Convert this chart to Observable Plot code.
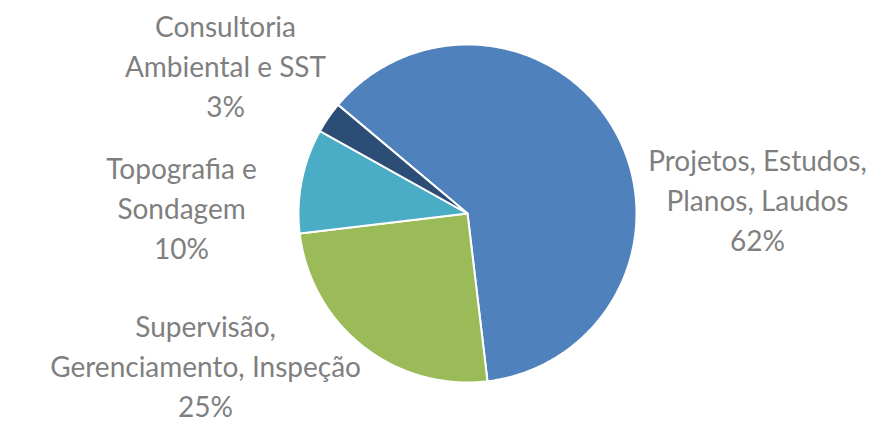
<!DOCTYPE html>
<html>
<head>
<meta charset="utf-8">
<script src="https://cdn.jsdelivr.net/npm/d3@7"></script>
<script src="https://cdn.jsdelivr.net/npm/@observablehq/plot@0.6"></script>
<style>
  html, body { margin: 0; padding: 0; background: #fff; }
  #chart { width: 880px; height: 422px; }
</style>
</head>
<body>
<div id="chart"></div>
<script>
// ---- data ----
const categories = [
  "Projetos, Estudos,\nPlanos, Laudos",
  "Supervisão,\nGerenciamento, Inspeção",
  "Topografia e\nSondagem",
  "Consultoria\nAmbiental e SST"
];
const shares = [62, 25, 10, 3];
const colors = ["#4F81BD", "#9BBB59", "#4BACC6", "#2C4D75"];

// ---- layout ----
const W = 880, H = 422;
const CX = 467, CY = 213, R = 169;     // pie centre and radius in px
const firstSliceAngle = -50;            // degrees, clockwise from 12 o'clock
// label anchors (in radius units, relative to centre)
const labelAnchors = [[1.716, 0.09], [-1.55, -0.892], [-1.692, 0.042], [-1.432, 0.882]];

const pie = d3.pie().sort(null).value(d => d)
  .startAngle(firstSliceAngle * Math.PI / 180)
  .endAngle((firstSliceAngle + 360) * Math.PI / 180);
const arcs = pie(shares);

const poly = [];
arcs.forEach((a, i) => {
  const n = Math.max(4, Math.ceil((a.endAngle - a.startAngle) / 0.01));
  poly.push({k: i, x: 0, y: 0});
  for (let j = 0; j <= n; j++) {
    const t = a.startAngle + (a.endAngle - a.startAngle) * j / n;
    poly.push({k: i, x: Math.sin(t), y: Math.cos(t)});
  }
  poly.push({k: i, x: 0, y: 0});
});

const labels = categories.map((c, i) => ({
  text: c + "\n" + shares[i] + "%",
  x: labelAnchors[i][0],
  y: labelAnchors[i][1]
}));

const chart = Plot.plot({
  width: W,
  height: H,
  margin: 0,
  x: {domain: [-CX / R, (W - CX) / R], range: [0, W], axis: null},
  y: {domain: [-(H - CY) / R, CY / R], range: [H, 0], axis: null},
  style: {background: "#fff"},
  marks: [
    Plot.line(poly, {x: "x", y: "y", z: "k", fill: d => colors[d.k], stroke: "#fff", strokeWidth: 2, strokeLinejoin: "round", curve: "linear"}),
    Plot.text(labels, {x: "x", y: "y", text: "text", fill: "#7F7F7F", fontSize: 28, fontFamily: "Lato", lineHeight: 1.43, textAnchor: "middle"})
  ]
});
document.getElementById("chart").appendChild(chart);
</script>
</body>
</html>
